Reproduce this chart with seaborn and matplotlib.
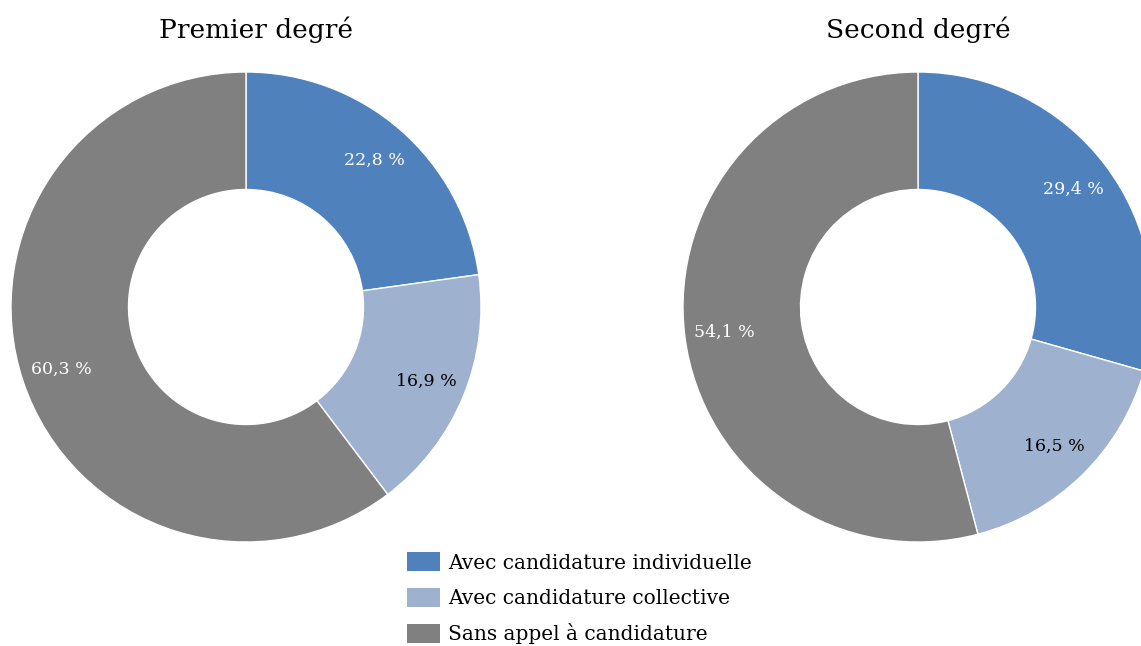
import matplotlib
matplotlib.use("Agg")
import matplotlib.pyplot as plt
import seaborn as sns
from matplotlib.patches import Patch

# data
categories = ["Avec candidature individuelle", "Avec candidature collective", "Sans appel à candidature"]
premier_degre = [22.8, 16.9, 60.3]
second_degre = [29.4, 16.5, 54.1]
titles = ["Premier degré", "Second degré"]
colors = ["#4F81BD", "#9EB1CF", "#808080"]
label_colors = ["white", "black", "white"]

sns.set_theme(style="white")
plt.rcParams['font.family'] = ['DejaVu Serif']
plt.rcParams['text.color'] = 'black'

W, H = 1141, 646
fig = plt.figure(figsize=(W / 100, H / 100), dpi=100)

def fmt(v):
    return f"{v:.1f}".replace(".", ",") + " %"

# axes placed in pixels: left, bottom, size
boxes = [(11, 104, 470), (683, 104, 470)]
title_x = [256, 918]

for vals, title, (x0, y0, s), tx in zip([premier_degre, second_degre], titles, boxes, title_x):
    ax = fig.add_axes([x0 / W, y0 / H, s / W, s / H])
    wedges, texts, autotexts = ax.pie(
        vals, colors=colors, startangle=90, counterclock=False,
        autopct=lambda p: "", pctdistance=0.83,
        wedgeprops=dict(width=0.5, edgecolor="white", linewidth=1))
    for t, v, c in zip(autotexts, vals, label_colors):
        t.set_text(fmt(v))
        t.set_color(c)
        t.set_fontsize(12.5)
    ax.set_xlim(-1, 1)
    ax.set_ylim(-1, 1)
    ax.set_aspect("equal")
    ax.axis("off")
    fig.text(tx / W, 1 - 30 / H, title, ha="center", va="center", fontsize=19, color="black")

handles = [Patch(facecolor=c, edgecolor="none") for c in colors]
leg = fig.legend(handles, categories, loc="upper left", bbox_to_anchor=(397 / W, 1 - 542 / H),
                 frameon=False, fontsize=14.5, handlelength=1.65, handleheight=1.1,
                 labelspacing=0.75, handletextpad=0.4, borderpad=0)
for t in leg.get_texts():
    t.set_color("black")

fig.savefig("out.png", dpi=100)
